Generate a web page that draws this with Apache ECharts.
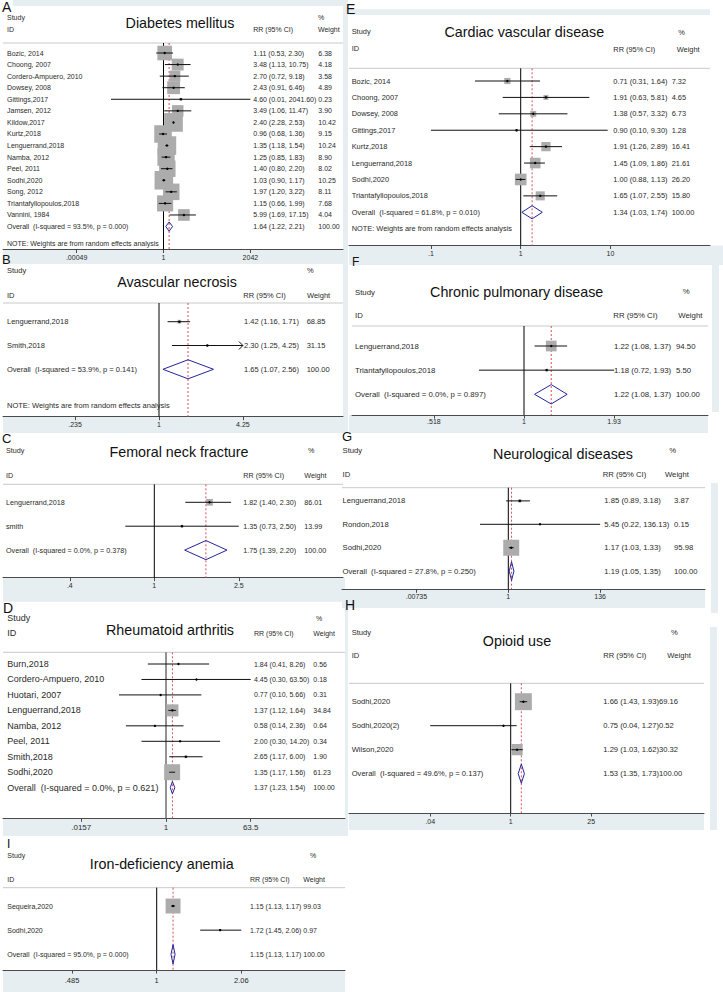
<!DOCTYPE html>
<html><head><meta charset="utf-8">
<script src="https://cdn.jsdelivr.net/npm/echarts@6/dist/echarts.min.js"></script>
<style>html,body{margin:0;padding:0;background:#fff}#c{width:723px;height:992px}</style>
</head><body><div id="c"></div>
<script>
// ================= DATA =================
// A  Diabetes mellitus
const dmStudies = ['Bozic, 2014','Choong, 2007','Cordero-Ampuero, 2010','Dowsey, 2008','Gittings,2017','Jamsen, 2012','Kildow,2017','Kurtz,2018','Lenguerrand,2018','Namba, 2012','Peel, 2011','Sodhi,2020','Song, 2012','Triantafyllopoulos,2018','Vannini, 1984'];
const dmRR     = [1.11, 3.48, 2.70, 2.43, 4.60, 3.49, 2.40, 0.96, 1.35, 1.25, 1.40, 1.03, 1.97, 1.15, 5.99];
const dmLower  = [0.53, 1.13, 0.72, 0.91, 0.01, 1.06, 2.28, 0.68, 1.18, 0.85, 0.80, 0.90, 1.20, 0.66, 1.69];
const dmUpper  = [2.30, 10.75, 9.18, 6.46, 2041.60, 11.47, 2.53, 1.36, 1.54, 1.83, 2.20, 1.17, 3.22, 1.99, 17.15];
const dmWeight = [6.38, 4.18, 3.58, 4.89, 0.23, 3.90, 10.42, 9.15, 10.24, 8.90, 8.02, 10.25, 8.11, 7.68, 4.04];
const dmOverall = [1.64, 1.22, 2.21];
const dmOverallLabel = 'Overall  (I-squared = 93.5%, p = 0.000)';
const dmTicks = [0.00049, 1, 2042];
const dmTickLabels = ['.00049', '1', '2042'];

// B  Avascular necrosis
const avnStudies = ['Lenguerrand,2018', 'Smith,2018'];
const avnRR = [1.42, 2.30];
const avnLower = [1.16, 1.25];
const avnUpper = [1.71, 4.25];
const avnWeight = [68.85, 31.15];
const avnTruncated = [false, true];
const avnOverall = [1.65, 1.07, 2.56];
const avnOverallLabel = 'Overall  (I-squared = 53.9%, p = 0.141)';
const avnTicks = [0.235, 1, 4.25];
const avnTickLabels = ['.235', '1', '4.25'];

// C  Femoral neck fracture
const fnfStudies = ['Lenguerrand,2018', 'smith'];
const fnfRR = [1.82, 1.35];
const fnfLower = [1.40, 0.73];
const fnfUpper = [2.30, 2.50];
const fnfWeight = [86.01, 13.99];
const fnfOverall = [1.75, 1.39, 2.20];
const fnfOverallLabel = 'Overall  (I-squared = 0.0%, p = 0.378)';
const fnfTicks = [0.4, 1, 2.5];
const fnfTickLabels = ['.4', '1', '2.5'];

// D  Rheumatoid arthritis
const raStudies = ['Burn,2018','Cordero-Ampuero, 2010','Huotari, 2007','Lenguerrand,2018','Namba, 2012','Peel, 2011','Smith,2018','Sodhi,2020'];
const raRR = [1.84, 4.45, 0.77, 1.37, 0.58, 2.00, 2.65, 1.35];
const raLower = [0.41, 0.30, 0.10, 1.12, 0.14, 0.30, 1.17, 1.17];
const raUpper = [8.26, 63.50, 5.66, 1.64, 2.36, 14.20, 6.00, 1.56];
const raWeight = [0.56, 0.18, 0.31, 34.84, 0.64, 0.34, 1.90, 61.23];
const raOverall = [1.37, 1.23, 1.54];
const raOverallLabel = 'Overall  (I-squared = 0.0%, p = 0.621)';
const raTicks = [0.0157, 1, 63.5];
const raTickLabels = ['.0157', '1', '63.5'];

// I  Iron-deficiency anemia
const idaStudies = ['Sequeira,2020', 'Sodhi,2020'];
const idaRR = [1.15, 1.72];
const idaLower = [1.13, 1.45];
const idaUpper = [1.17, 2.06];
const idaWeight = [99.03, 0.97];
const idaOverall = [1.15, 1.13, 1.17];
const idaOverallLabel = 'Overall  (I-squared = 95.0%, p = 0.000)';
const idaTicks = [0.485, 1, 2.06];
const idaTickLabels = ['.485', '1', '2.06'];

// E  Cardiac vascular disease
const cvdStudies = ['Bozic, 2014','Choong, 2007','Dowsey, 2008','Gittings,2017','Kurtz,2018','Lenguerrand,2018','Sodhi,2020','Triantafyllopoulos,2018'];
const cvdRR = [0.71, 1.91, 1.38, 0.90, 1.91, 1.45, 1.00, 1.65];
const cvdLower = [0.31, 0.63, 0.57, 0.10, 1.26, 1.09, 0.88, 1.07];
const cvdUpper = [1.64, 5.81, 3.32, 9.30, 2.89, 1.86, 1.13, 2.55];
const cvdWeight = [7.32, 4.65, 6.73, 1.28, 16.41, 21.61, 26.20, 15.80];
const cvdOverall = [1.34, 1.03, 1.74];
const cvdOverallLabel = 'Overall  (I-squared = 61.8%, p = 0.010)';
const cvdTicks = [0.1, 1, 10];
const cvdTickLabels = ['.1', '1', '10'];

// F  Chronic pulmonary disease
const cpdStudies = ['Lenguerrand,2018', 'Triantafyllopoulos,2018'];
const cpdRR = [1.22, 1.18];
const cpdLower = [1.08, 0.72];
const cpdUpper = [1.37, 1.93];
const cpdWeight = [94.50, 5.50];
const cpdOverall = [1.22, 1.08, 1.37];
const cpdOverallLabel = 'Overall  (I-squared = 0.0%, p = 0.897)';
const cpdTicks = [0.518, 1, 1.93];
const cpdTickLabels = ['.518', '1', '1.93'];

// G  Neurological diseases
const neuStudies = ['Lenguerrand,2018', 'Rondon,2018', 'Sodhi,2020'];
const neuRR = [1.85, 5.45, 1.17];
const neuLower = [0.89, 0.22, 1.03];
const neuUpper = [3.18, 136.13, 1.33];
const neuWeight = [3.87, 0.15, 95.98];
const neuOverall = [1.19, 1.05, 1.35];
const neuOverallLabel = 'Overall  (I-squared = 27.8%, p = 0.250)';
const neuTicks = [0.00735, 1, 136];
const neuTickLabels = ['.00735', '1', '136'];

// H  Opioid use
const opStudies = ['Sodhi,2020', 'Sodhi,2020(2)', 'Wilson,2020'];
const opRR = [1.66, 0.75, 1.29];
const opLower = [1.43, 0.04, 1.03];
const opUpper = [1.93, 1.27, 1.62];
const opWeight = [69.16, 0.52, 30.32];
const opOverall = [1.53, 1.35, 1.73];
const opOverallLabel = 'Overall  (I-squared = 49.6%, p = 0.137)';
const opTicks = [0.04, 1, 25];
const opTickLabels = ['.04', '1', '25'];

const noteText = 'NOTE: Weights are from random effects analysis';

// ================= LAYOUT =================
const FF = '"Liberation Sans", Arial, Helvetica, sans-serif';
const TXT = '#2a2a2a';
const BAND = '#e6eef1';
const LN = Math.log;

const panels = [
 {letter:'A', title:'Diabetes mellitus', studies:dmStudies, rr:dmRR, lo:dmLower, hi:dmUpper, w:dmWeight, overall:dmOverall, ovLabel:dmOverallLabel, ticks:dmTicks, tickLabels:dmTickLabels, note:true,
  x0:3, x1:343, headerY:43, row0:53, sp:11.57, axisY:249.5, nullX:163.5, scale:11.4, nameX:7, rrX:253.3, wX:318.3, fs:7,
  titleX:180, titleY:23, studyY:17, idY:29, pctX:318, pctY:17, hdrY:29, rrHX:253.3, wHX:318, boxK:5.8, tickFs:7, tickMargin:4},
 {letter:'B', title:'Avascular necrosis', studies:avnStudies, rr:avnRR, lo:avnLower, hi:avnUpper, w:avnWeight, trunc:avnTruncated, overall:avnOverall, ovLabel:avnOverallLabel, ticks:avnTicks, tickLabels:avnTickLabels, note:true, noteRow:3.5,
  x0:3, x1:343, headerY:303, row0:321.7, sp:23.8, axisY:416.7, nullX:159, scale:58, nameX:7, rrX:244, wX:306.7, fs:7.5,
  titleX:177, titleY:281.7, studyY:270.7, idY:295, pctX:307, pctY:270.7, hdrY:295, rrHX:243.3, wHX:307, boxK:0.45, tickFs:7, tickMargin:4},
 {letter:'C', title:'Femoral neck fracture', studies:fnfStudies, rr:fnfRR, lo:fnfLower, hi:fnfUpper, w:fnfWeight, overall:fnfOverall, ovLabel:fnfOverallLabel, ticks:fnfTicks, tickLabels:fnfTickLabels,
  x0:3, x1:343, headerY:484.3, row0:502.3, sp:23.9, axisY:577.7, nullX:154.3, scale:92.2, nameX:6, rrX:243.3, wX:304.3, fs:7.2,
  titleX:179, titleY:451.7, studyY:450.7, idY:475, pctX:308, pctY:450, hdrY:475, rrHX:243.3, wHX:304.3, boxK:0.72, tickFs:7, tickMargin:4},
 {letter:'D', title:'Rheumatoid arthritis', studies:raStudies, rr:raRR, lo:raLower, hi:raUpper, w:raWeight, overall:raOverall, ovLabel:raOverallLabel, ticks:raTicks, tickLabels:raTickLabels,
  x0:3, x1:345, headerY:652.3, row0:664, sp:15.46, axisY:818.3, nullX:166, scale:20.4, nameX:7.3, rrX:254, wX:313.3, fs:9, rrFs:7, idFs:9,
  titleX:170, titleY:630, studyY:618.3, idY:633.3, pctX:316, pctY:618, hdrY:633.3, rrHX:254, wHX:313.3, hdrFs:7, boxK:2.04, tickFs:8, tickMargin:5, nullColor:'#777', nullWidth:1.6},
 {letter:'I', title:'Iron-deficiency anemia', studies:idaStudies, rr:idaRR, lo:idaLower, hi:idaUpper, w:idaWeight, overall:idaOverall, ovLabel:idaOverallLabel, ticks:idaTicks, tickLabels:idaTickLabels,
  x0:3, x1:345, headerY:887.7, row0:906, sp:24.15, axisY:970, nullX:156.7, scale:117, nameX:7.3, rrX:250, wX:303.3, fs:7,
  titleX:161.7, titleY:864.3, studyY:855, idY:879, pctX:310, pctY:855, hdrY:879, rrHX:250, wHX:303.3, boxK:1.5, tickFs:7.5, tickMargin:6},
 {letter:'E', title:'Cardiac vascular disease', studies:cvdStudies, rr:cvdRR, lo:cvdLower, hi:cvdUpper, w:cvdWeight, overall:cvdOverall, ovLabel:cvdOverallLabel, ticks:cvdTicks, tickLabels:cvdTickLabels, note:true, noteRow:9,
  x0:349, x1:710, headerY:68.3, row0:81, sp:16.41, axisY:245.5, nullX:520.7, scale:39, nameX:351.7, rrX:613.3, wX:671.7, fs:7.4,
  titleX:524.3, titleY:32.3, studyY:31.7, idY:48.3, pctX:678.3, pctY:32.3, hdrY:49, rrHX:613.3, wHX:676.7, boxK:2.28, tickFs:7, tickMargin:4},
 {letter:'F', title:'Chronic pulmonary disease', studies:cpdStudies, rr:cpdRR, lo:cpdLower, hi:cpdUpper, w:cpdWeight, overall:cpdOverall, ovLabel:cpdOverallLabel, ticks:cpdTicks, tickLabels:cpdTickLabels,
  x0:352, x1:708, headerY:326, row0:346, sp:24.15, axisY:415, nullX:524, scale:137, nameX:355, rrX:614, wX:676, fs:7.8,
  titleX:516.7, titleY:291.7, studyY:292.3, idY:315, pctX:682.7, pctY:291, hdrY:315, rrHX:613.3, wHX:678.3, boxK:1.1, tickFs:7, tickMargin:3},
 {letter:'G', title:'Neurological diseases', studies:neuStudies, rr:neuRR, lo:neuLower, hi:neuUpper, w:neuWeight, overall:neuOverall, ovLabel:neuOverallLabel, ticks:neuTicks, tickLabels:neuTickLabels,
  x0:342, x1:705, headerY:487.7, row0:500.9, sp:23.4, axisY:589.3, nullX:508.3, scale:18.7, nameX:342.5, rrX:604.3, wX:674, fs:7.7,
  titleX:563, titleY:454.3, studyY:450, idY:474.3, pctX:669.3, pctY:450, hdrY:474.3, rrHX:602.7, wHX:665, boxK:1.63, tickFs:7, tickMargin:4},
 {letter:'H', title:'Opioid use', studies:opStudies, rr:opRR, lo:opLower, hi:opUpper, w:opWeight, overall:opOverall, ovLabel:opOverallLabel, ticks:opTicks, tickLabels:opTickLabels, concatWeight:true,
  x0:349, x1:704, headerY:683.3, row0:701.7, sp:24, axisY:813, nullX:510.7, scale:25, nameX:351.7, rrX:603.3, wX:690, fs:7.6,
  titleX:517, titleY:640.7, studyY:632, idY:655, pctX:671, pctY:632.3, hdrY:655, rrHX:603.3, wHX:667.3, boxK:2.04, tickFs:7, tickMargin:5}
];

const letters = [
 {t:'A', x:2, y:0, s:14}, {t:'B', x:2, y:253, s:13}, {t:'C', x:2, y:432, s:13}, {t:'D', x:3, y:601, s:14}, {t:'I', x:7, y:838, s:12},
 {t:'E', x:346, y:2, s:14}, {t:'F', x:352, y:256, s:12}, {t:'G', x:342, y:430, s:13}, {t:'H', x:345, y:598, s:14}
];

const bands = [
 [13,0,343,6], [3,249.5,343,264], [3,416.7,343,433], [3,577.7,345,601.7], [3,818.3,345,836], [3,970,345,992],
 [343,0,348,433], [345,608,348,836],
 [349,9.3,710,15], [349,245.5,723,265], [712,265,719,412], [349,415,708,433], [711,483,718,613],
 [342,589.3,705,608], [710,627,717,830], [349,813,704,830]
];

function fmt(v){ return v.toFixed(2); }
function rrText(r,l,h){ return fmt(r) + ' (' + fmt(l) + ', ' + fmt(h) + ')'; }

function renderer(P) {
  const n = P.studies.length;
  const tmin = LN(P.ticks[0]), tmax = LN(P.ticks[P.ticks.length - 1]);
  const rrFs = P.rrFs || P.fs;
  function txt(s, x, y, fs) {
    return {type:'text', z2:6, style:{text:s, x:x, y:y, fill:TXT, fontSize:fs, fontFamily:FF, align:'left', verticalAlign:'middle'}};
  }
  return function (params, api) {
    const i = params.dataIndex;
    const cs = params.coordSys;
    const kids = [];
    if (i === 0) {
      const xn = api.coord([0, 0])[0];
      const xo = api.coord([LN(P.overall[0]), 0])[0];
      kids.push({type:'line', z2:0, shape:{x1:xn, y1:cs.y, x2:xn, y2:cs.y + cs.height}, style:{stroke:P.nullColor || '#000', lineWidth:P.nullWidth || 1}});
      kids.push({type:'line', z2:0, shape:{x1:xo, y1:cs.y, x2:xo, y2:cs.y + cs.height}, style:{stroke:'#d4505c', lineWidth:1, lineDash:[2, 2]}});
      return {type:'group', children:kids};
    }
    const row = api.value(1);
    const yc = api.coord([0, row])[1];
    const j = i - 1;
    if (j < n) {
      const r = P.rr[j], l = P.lo[j], h = P.hi[j], w = P.w[j];
      const xc = api.coord([LN(r), row])[0];
      const side = P.boxK * Math.sqrt(w);
      kids.push({type:'rect', z2:1, shape:{x:xc - side / 2, y:yc - side / 2, width:side, height:side}, style:{fill:'#acacac'}});
      const a = api.coord([Math.max(LN(l), tmin), row])[0];
      const b = api.coord([Math.min(LN(h), tmax), row])[0];
      kids.push({type:'line', z2:3, shape:{x1:a, y1:yc, x2:b, y2:yc}, style:{stroke:'#111', lineWidth:1}});
      if (P.trunc && P.trunc[j]) {
        kids.push({type:'polyline', z2:3, shape:{points:[[b - 4, yc - 4], [b, yc], [b - 4, yc + 4]]}, style:{stroke:'#111', lineWidth:1, fill:'none'}});
      }
      kids.push({type:'circle', z2:4, shape:{cx:xc, cy:yc, r:1.2}, style:{fill:'#000'}});
      kids.push(txt(P.studies[j], P.nameX, yc, P.fs));
      if (P.concatWeight) {
        kids.push(txt(rrText(r, l, h) + fmt(w), P.rrX, yc, rrFs));
      } else {
        kids.push(txt(rrText(r, l, h), P.rrX, yc, rrFs));
        kids.push(txt(fmt(w), P.wX, yc, rrFs));
      }
    } else if (j === n) {
      const o = P.overall;
      const xc = api.coord([LN(o[0]), row])[0];
      const a = api.coord([LN(o[1]), row])[0];
      const b = api.coord([LN(o[2]), row])[0];
      const hh = 0.4 * P.sp;
      kids.push({type:'polygon', z2:3, shape:{points:[[a, yc], [xc, yc - hh], [b, yc], [xc, yc + hh]]}, style:{stroke:'#24249c', lineWidth:1, fill:'none'}});
      kids.push(txt(P.ovLabel, P.nameX, yc, P.fs));
      if (P.concatWeight) {
        kids.push(txt(rrText(o[0], o[1], o[2]) + '100.00', P.rrX, yc, rrFs));
      } else {
        kids.push(txt(rrText(o[0], o[1], o[2]), P.rrX, yc, rrFs));
        kids.push(txt('100.00', P.wX, yc, rrFs));
      }
    } else {
      kids.push(txt(noteText, P.nameX, yc, P.fs));
    }
    return {type:'group', children:kids};
  };
}

const grids = [], xAxes = [], yAxes = [], series = [], graphics = [];

bands.forEach(b => graphics.push({type:'rect', z:-10, silent:true, shape:{x:b[0], y:b[1], width:b[2] - b[0], height:b[3] - b[1]}, style:{fill:BAND}}));

panels.forEach((P, k) => {
  const n = P.studies.length;
  const tl = P.ticks.map(LN);
  grids.push({left:P.x0, top:P.headerY, width:P.x1 - P.x0, height:P.axisY - P.headerY, containLabel:false, outerBoundsMode:'none', show:false});
  xAxes.push({
    gridIndex:k, type:'value', min:(P.x0 - P.nullX) / P.scale, max:(P.x1 - P.nullX) / P.scale,
    axisLine:{show:true, onZero:false, lineStyle:{color:'#4a4a4a', width:1}},
    axisTick:{show:true, customValues:tl, length:3.5, lineStyle:{color:'#4a4a4a'}},
    axisLabel:{show:true, customValues:tl, fontSize:P.tickFs, color:TXT, fontFamily:FF, margin:P.tickMargin,
      formatter:function (v) { let best = 0, d = Infinity; tl.forEach((t, ii) => { const dd = Math.abs(t - v); if (dd < d) { d = dd; best = ii; } }); return P.tickLabels[best]; }},
    splitLine:{show:false}
  });
  yAxes.push({gridIndex:k, type:'value', inverse:true, show:false,
    min:(P.headerY - P.row0) / P.sp, max:(P.axisY - P.row0) / P.sp});
  const data = [[0, 0]];
  for (let j = 0; j < n; j++) data.push([LN(P.rr[j]), j]);
  data.push([LN(P.overall[0]), n]);
  if (P.note) data.push([0, P.noteRow != null ? P.noteRow : n + 1.5]);
  series.push({type:'custom', xAxisIndex:k, yAxisIndex:k, renderItem:renderer(P), data:data, silent:true, clip:false, animation:false});

  // header texts and line
  const hFs = P.hdrFs || P.fs;
  const idFs = P.idFs || P.fs;
  const T = (s, x, y, fs, extra) => graphics.push(Object.assign({type:'text', z:5, silent:true, style:{text:s, x:x, y:y, fill:TXT, fontSize:fs, fontFamily:FF, align:'left', verticalAlign:'middle'}}, extra || {}));
  T('Study', P.nameX, P.studyY, idFs);
  T('ID', P.nameX, P.idY, idFs);
  T('%', P.pctX, P.pctY, hFs);
  T('RR (95% CI)', P.rrHX, P.hdrY, hFs);
  T('Weight', P.wHX, P.hdrY, hFs);
  graphics.push({type:'text', z:5, silent:true, style:{text:P.title, x:P.titleX, y:P.titleY, fill:'#111', fontSize:14.3, fontFamily:FF, align:'center', verticalAlign:'middle'}});
  graphics.push({type:'line', z:1, silent:true, shape:{x1:P.x0, y1:P.headerY, x2:P.x1, y2:P.headerY}, style:{stroke:'#c9c9c9', lineWidth:1}});
});

letters.forEach(L => graphics.push({type:'text', z:6, silent:true, style:{text:L.t, x:L.x, y:L.y, fill:'#111', fontSize:L.s, fontFamily:FF, align:'left', verticalAlign:'top'}}));

const chart = echarts.init(document.getElementById('c'), null, {renderer:'svg', width:723, height:992});
chart.setOption({
  animation:false,
  backgroundColor:'#ffffff',
  grid:grids, xAxis:xAxes, yAxis:yAxes, series:series, graphic:graphics
});
</script>
</body></html>
